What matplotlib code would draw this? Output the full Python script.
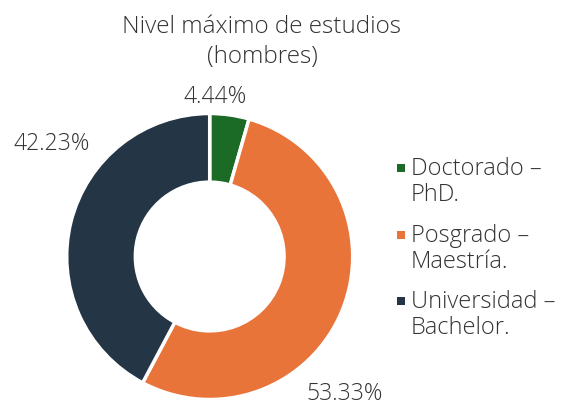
import matplotlib
matplotlib.use("Agg")
import matplotlib.pyplot as plt
from matplotlib.patches import Rectangle

categories = ["Doctorado –\nPhD.", "Posgrado –\nMaestría.", "Universidad –\nBachelor."]
values = [4.44, 53.33, 42.23]
colors = ["#1b6a26", "#e8743a", "#243546"]
title = "Nivel máximo de estudios\n(hombres)"

# label positions (pie-radius units), layout only
label_pos = [(0.035, 1.115), (0.945, -0.965), (-1.105, 0.79)]

plt.rcParams['font.family'] = ['Open Sans', 'DejaVu Sans']
TXT = "#333333"
W, H = 572, 408
fig = plt.figure(figsize=(W / 100, H / 100), dpi=100)

cx, cy, R = 209.7, 408 - 256.5, 143.0
lim = 1.5
side = 2 * lim * R
ax = fig.add_axes([(cx - side / 2) / W, (cy - side / 2) / H, side / W, side / H])

wedges, _ = ax.pie(values, colors=colors, startangle=90, counterclock=False,
                   radius=1.0, wedgeprops=dict(width=0.48, edgecolor='white', linewidth=2.5))
ax.set_xlim(-lim, lim)
ax.set_ylim(-lim, lim)
ax.set_aspect('equal')
ax.axis('off')

for v, (x, y) in zip(values, label_pos):
    ax.text(x, y, f"{v:.2f}%", ha='center', va='center', fontsize=16.5,
            color=TXT, fontweight='light', clip_on=False)

fig.text(262 / W, 1 - 42 / H, title, ha='center', va='center', fontsize=17.5,
         color=TXT, fontweight='light', linespacing=1.35)

leg_y = [182, 249, 315]
for cat, col, yy in zip(categories, colors, leg_y):
    fig.text(411 / W, 1 - yy / H, cat, ha='left', va='center', fontsize=17,
             color=TXT, fontweight='light', linespacing=1.1)
    fig.patches.append(Rectangle((397 / W, 1 - (yy - 10) / H), 8 / W, 8 / H,
                                 transform=fig.transFigure, facecolor=col, edgecolor='none'))

fig.savefig("out.png", dpi=100)
